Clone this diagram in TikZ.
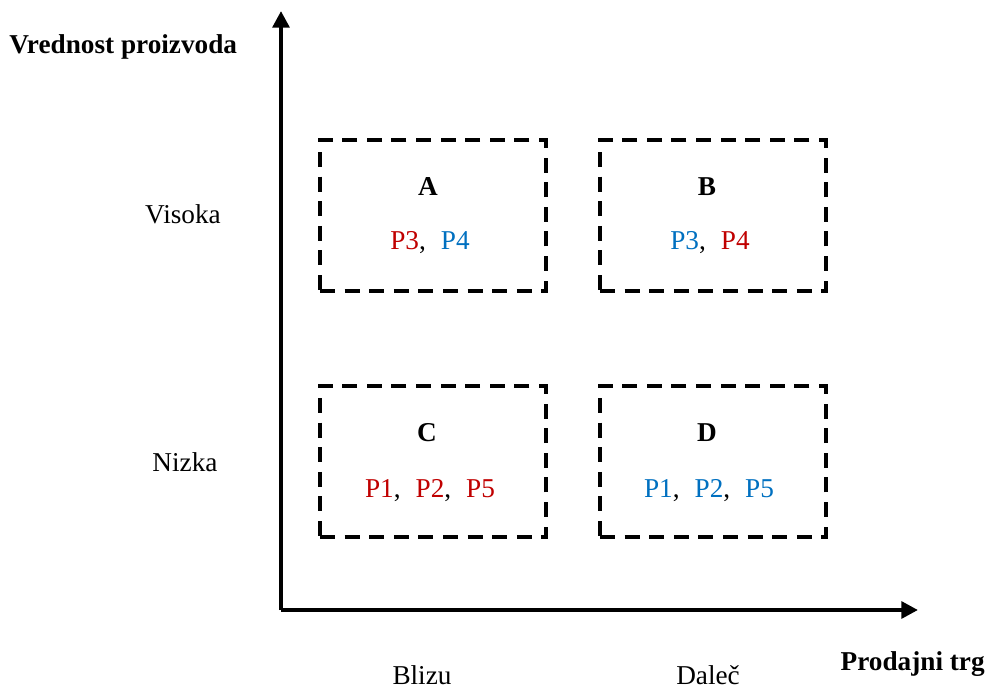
\documentclass[tikz,border=0pt]{standalone}
\usepackage{fontspec}
\setmainfont{Liberation Serif}
\usetikzlibrary{arrows.meta}
\definecolor{pred}{HTML}{C00000}
\definecolor{pblue}{HTML}{0070C0}
\newcommand{\sepc}{,\hspace{0.55em}}
\begin{document}
\begin{tikzpicture}[x=0.02cm,y=-0.02cm,
  axis/.style={line width=2.3pt,-{Triangle[length=9.5pt,width=9.5pt]}},
  quad/.style={draw,line width=1.8pt,dash pattern=on 8.5pt off 5.5pt,minimum width=4.52cm,minimum height=3.02cm,inner sep=0pt},
  lbl/.style={font=\fontsize{15.5}{18}\selectfont,inner sep=0pt},
  blbl/.style={font=\fontsize{15.5}{18}\selectfont\bfseries,inner sep=0pt}]
\useasboundingbox (0,0) rectangle (988,690);
\coordinate (o) at (281,610);
\coordinate (ytop) at (281,11);
\coordinate (xend) at (918,610);
\draw[axis] (o) -- (ytop);
\draw[axis] (o) -- (xend);
\node[quad] (A) at (433,215.5) {};
\node[quad] (B) at (713,215.5) {};
\node[quad] (C) at (433,461.5) {};
\node[quad] (D) at (713,461.5) {};
\node[blbl] (At) at (428,187) {A};
\node[lbl] (Ac) at (430,243) {\textcolor{pred}{P3}\sepc\textcolor{pblue}{P4}};
\node[blbl] (Bt) at (707,187) {B};
\node[lbl] (Bc) at (710,243) {\textcolor{pblue}{P3}\sepc\textcolor{pred}{P4}};
\node[blbl] (Ct) at (427,433) {C};
\node[lbl] (Cc) at (430,491) {\textcolor{pred}{P1}\sepc\textcolor{pred}{P2}\sepc\textcolor{pred}{P5}};
\node[blbl] (Dt) at (707,433) {D};
\node[lbl] (Dc) at (709,491) {\textcolor{pblue}{P1}\sepc\textcolor{pblue}{P2}\sepc\textcolor{pblue}{P5}};
\node[blbl,anchor=west] (vy) at (9,47) {Vrednost proizvoda};
\node[lbl] (vis) at (183,214) {Visoka};
\node[lbl] (niz) at (185,462) {Nizka};
\node[lbl] (bli) at (422,675) {Blizu};
\node[lbl] (dal) at (708,675) {Daleč};
\node[blbl,anchor=east] (pt) at (985,664) {Prodajni trg};
\end{tikzpicture}
\end{document}
